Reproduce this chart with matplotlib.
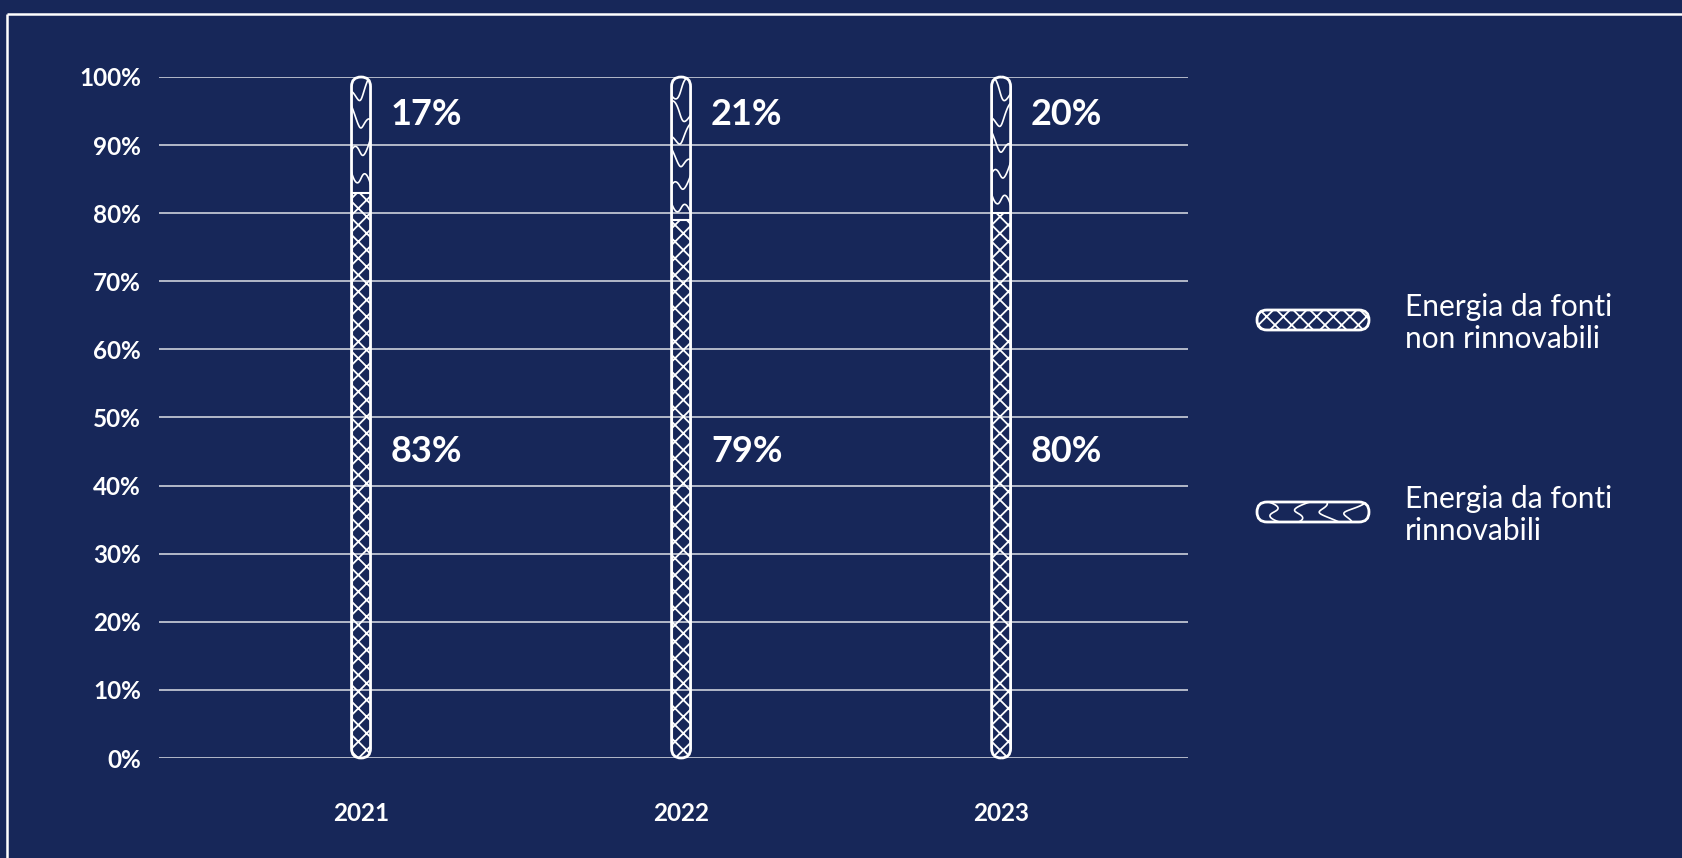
import numpy as np
import matplotlib
matplotlib.use("Agg")
import matplotlib.pyplot as plt
from matplotlib.patches import FancyBboxPatch, Rectangle

# ---- data -------------------------------------------------------------
years = ["2021", "2022", "2023"]
non_renewable = [83, 79, 80]      # energia da fonti non rinnovabili (%)
renewable = [17, 21, 20]          # energia da fonti rinnovabili (%)
y_ticks = [0, 10, 20, 30, 40, 50, 60, 70, 80, 90, 100]
legend_labels = ["Energia da fonti\nnon rinnovabili", "Energia da fonti\nrinnovabili"]

# ---- style ------------------------------------------------------------
BG = "#172759"
FG = "white"
W, H, DPI = 1683, 858, 100

plt.rcParams["font.family"] = ["Lato", "DejaVu Sans"]
plt.rcParams["hatch.linewidth"] = 1.3

fig = plt.figure(figsize=(W / DPI, H / DPI), dpi=DPI, facecolor=BG)

ax = fig.add_axes([159 / W, 1 - 758 / H, (1188 - 159) / W, (758 - 77) / H])
ax.set_facecolor("none")
ax.set_xlim(-0.63125, 2.584)
ax.set_ylim(0, 100)
for sp in ax.spines.values():
    sp.set_visible(False)

x = np.arange(len(years))
ax.set_xticks(x)
ax.set_xticklabels(years)
ax.set_yticks(y_ticks)
ax.set_yticklabels([f"{v}%" for v in y_ticks])
ax.tick_params(axis="both", length=0, colors=FG, labelsize=17.5)
ax.tick_params(axis="y", pad=13)
ax.tick_params(axis="x", pad=32)
for lab in ax.get_xticklabels() + ax.get_yticklabels():
    lab.set_fontweight("bold")
ax.yaxis.grid(True, color=FG, lw=1.1, alpha=0.85)
ax.set_axisbelow(True)

# pixel scale of the data axes (for round caps and offsets)
o = ax.transData.transform([(0, 0)])[0]
px_x = ax.transData.transform([(1, 0)])[0][0] - o[0]
px_y = ax.transData.transform([(0, 1)])[0][1] - o[1]
aspect = px_x / px_y

bar_w = 19 / px_x
totals = [a + b for a, b in zip(non_renewable, renewable)]

lower = ax.bar(x, non_renewable, width=bar_w, color="none", edgecolor=FG,
               hatch="xx", lw=1.5, zorder=3)
upper = ax.bar(x, renewable, bottom=non_renewable, width=bar_w, color="none",
               edgecolor="none", lw=0, zorder=3)


def squiggles(axis, xc, lo, hi, half_w, clip, sx, sy, vertical=True):
    """Wavy S-strokes filling one segment of a capsule."""
    step_px = 26
    span = hi - lo
    span_px = span * (sy if vertical else sx)
    n = max(1, int(round(span_px / step_px)))
    seg = span / n
    t = np.linspace(0, 1, 50)
    for j in range(n):
        side = 1 if j % 2 == 0 else -1
        c = lo + (j + 0.5) * seg
        a = side * (1.05 * np.cos(np.pi * t) - 0.25 * np.sin(2 * np.pi * t))
        b = 0.55 * (t - 0.5) + 0.28 * np.sin(2 * np.pi * t + 0.6 * j)
        if vertical:
            xs, ys = xc + half_w * a, c + b * seg
        else:
            ys, xs = xc + half_w * a, c + b * seg
        ln, = axis.plot(xs, ys, color=FG, lw=1.2, zorder=3,
                        solid_capstyle="round")
        ln.set_clip_path(clip)


for i in range(len(x)):
    cap = FancyBboxPatch((x[i] - bar_w / 2, 0), bar_w, totals[i],
                         boxstyle=f"round,pad=0,rounding_size={bar_w / 2}",
                         mutation_aspect=aspect, fc="none", ec=FG, lw=2.0,
                         zorder=4, clip_on=False)
    ax.add_patch(cap)
    lower[i].set_clip_path(cap)
    upper[i].set_clip_path(cap)
    squiggles(ax, x[i], non_renewable[i], totals[i],
              bar_w / 2, cap, px_x, px_y, vertical=True)

    ax.text(x[i] + 30 / px_x, 45, f"{non_renewable[i]}%", color=FG,
            fontsize=26, fontweight="bold", ha="left", va="center")
    ax.text(x[i] + 30 / px_x, 94.5, f"{renewable[i]}%", color=FG,
            fontsize=26, fontweight="bold", ha="left", va="center")

# ---- frame and legend (pixel-space overlay) ----------------------------
ov = fig.add_axes([0, 0, 1, 1], zorder=5)
ov.set_xlim(0, W)
ov.set_ylim(0, H)
ov.axis("off")
ov.patch.set_alpha(0)

ov.plot([7.5, 7.5], [-5, H - 13.5], color=FG, lw=1.8, solid_capstyle="butt")
ov.plot([7.5, W + 5], [H - 13.5, H - 13.5], color=FG, lw=1.8, solid_capstyle="butt")

leg_centers = [H - 320, H - 512]
lx0, lw_, lh = 1257, 112, 20
for k, yc in enumerate(leg_centers):
    cap = FancyBboxPatch((lx0, yc - lh / 2), lw_, lh,
                         boxstyle=f"round,pad=0,rounding_size={lh / 2}",
                         fc="none", ec=FG, lw=2.0, zorder=4)
    ov.add_patch(cap)
    if k == 0:
        r = Rectangle((lx0, yc - lh / 2), lw_, lh, fc="none", ec=FG,
                      hatch="xx", lw=0, zorder=3)
        ov.add_patch(r)
        r.set_clip_path(cap)
    else:
        squiggles(ov, yc, lx0 + 4, lx0 + lw_ - 4, lh / 2, cap, 1, 1,
                  vertical=False)
    ov.text(1405, yc - 3, legend_labels[k], color=FG, fontsize=21.5,
            fontweight="normal", ha="left", va="center", linespacing=1.2)

fig.savefig("out.png", dpi=DPI, facecolor=BG)
